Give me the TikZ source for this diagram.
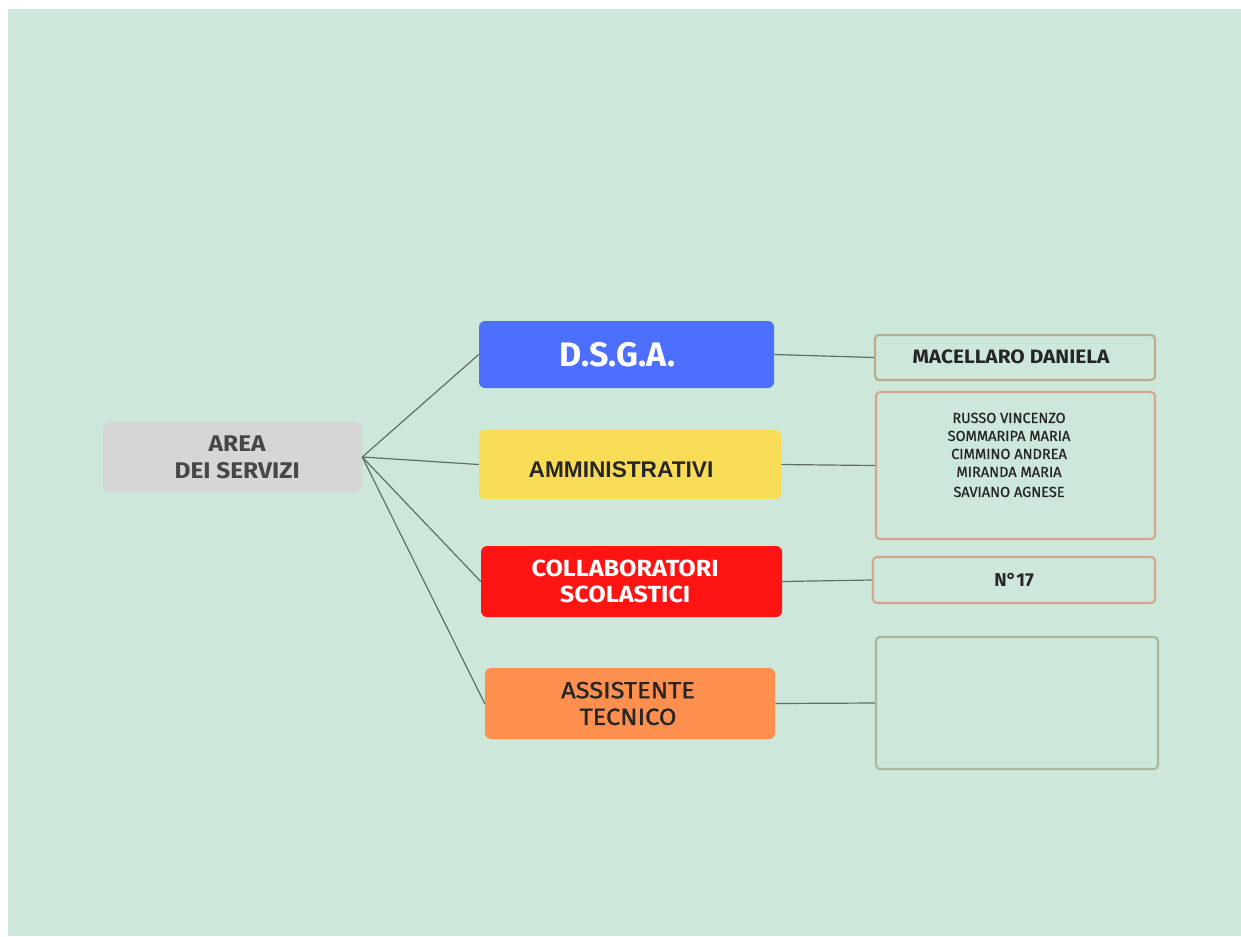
\documentclass[tikz,border=0pt]{standalone}
\usepackage{fontspec}
\setmainfont{Fira Sans}
\newfontfamily\lib{Liberation Sans}
\newfontfamily\wide{Fira Sans}[FakeStretch=1.08]
\newfontfamily\widemed{Fira Sans}[FakeStretch=1.09, FakeBold=1.2]
\newfontfamily\med{Fira Sans}[FakeBold=0.8]
\definecolor{bggreen}{HTML}{CDE7DA}
\definecolor{areagray}{HTML}{D6D6D6}
\definecolor{dsgablue}{HTML}{4C6FFF}
\definecolor{ammyellow}{HTML}{F9DC55}
\definecolor{collred}{HTML}{FF1414}
\definecolor{assorange}{HTML}{FE8F4E}
\definecolor{tanborder}{HTML}{B8AC8C}
\definecolor{salmonborder}{HTML}{D6A590}
\definecolor{olivborder}{HTML}{A9B89C}
\definecolor{linkgray}{HTML}{5F6F63}
\definecolor{darktext}{HTML}{262626}
\tikzset{
  box/.style={rounded corners=4.5pt, minimum width=#1*0.75pt, inner sep=0pt},
  leaf/.style={draw, line width=1.6pt, fill=none, rounded corners=3pt, inner sep=0pt},
  link/.style={draw=linkgray, line width=0.9pt},
}
\begin{document}
\begin{tikzpicture}[x=0.75pt,y=-0.75pt]
\useasboundingbox (0,0) rectangle (1241,936);
\fill[white] (0,0) rectangle (1241,936);
\fill[bggreen] (8,9) rectangle (1241,936);

\node[box=259, minimum height=70*0.75pt, fill=areagray, text=black!72, align=center,
  font=\wide\bfseries\fontsize{17}{20}\selectfont] (area) at (232.5,457)
  {\kern7pt AREA\\\kern7pt DEI\ SERVIZI};
\node[box=295, minimum height=67*0.75pt, fill=dsgablue, text=white,
  font=\bfseries\fontsize{25.5}{28}\selectfont] (dsga) at (626.5,354.5) {D.S.G.A.\kern13.5pt};
\node[box=302, minimum height=69*0.75pt, fill=ammyellow, text=darktext,
  font=\lib\bfseries\fontsize{17}{20}\selectfont] (amm) at (630,464.5)
  {\raisebox{-9.8pt}[0pt][0pt]{AMMINISTRATIVI\kern13.5pt}};
\node[box=301, minimum height=71*0.75pt, fill=collred, text=white, align=center,
  font=\wide\bfseries\fontsize{17.5}{20}\selectfont] (coll) at (631.5,581.5)
  {COLLABORATORI\kern9.5pt\\SCOLASTICI\kern9.5pt};
\node[box=290, minimum height=71*0.75pt, fill=assorange, text=darktext, align=center,
  font=\widemed\fontsize{17.5}{20}\selectfont] (ass) at (630,703.5)
  {ASSISTENTE\kern3pt\\TECNICO\kern3pt};

\node[leaf, draw=tanborder, minimum width=280*0.75pt, minimum height=45*0.75pt,
  text=darktext, font=\wide\bfseries\fontsize{14.5}{16}\selectfont] (mac) at (1015,357.5)
  {\raisebox{1.5pt}{MACELLARO DANIELA}\kern6pt};
\node[leaf, draw=salmonborder, minimum width=279*0.75pt, minimum height=147*0.75pt] (names) at (1015.5,465.5) {};
\node[align=center, inner sep=0pt, text=darktext, anchor=north,
  font=\med\fontsize{10.9}{13.5}\selectfont] (namestext) at (1009,412.5)
  {RUSSO VINCENZO\\SOMMARIPA MARIA\\CIMMINO ANDREA\\MIRANDA MARIA\\[1.5pt]SAVIANO AGNESE};
\node[leaf, draw=salmonborder, minimum width=282*0.75pt, minimum height=46*0.75pt,
  text=darktext, font=\bfseries\fontsize{14}{16}\selectfont] (n17) at (1014,580) {N\textdegree17};
\node[leaf, draw=olivborder, minimum width=282*0.75pt, minimum height=132*0.75pt] (empty) at (1017,703) {};

\draw[link] (area.east) -- (dsga.west);
\draw[link] (area.east) -- (amm.west);
\draw[link] (area.east) -- (coll.west);
\draw[link] (area.east) -- (ass.west);
\draw[link] (dsga.east) -- (mac.west);
\draw[link] (amm.east) -- (names.west);
\draw[link] (coll.east) -- (n17.west);
\draw[link] (ass.east) -- (empty.west);
\end{tikzpicture}
\end{document}
